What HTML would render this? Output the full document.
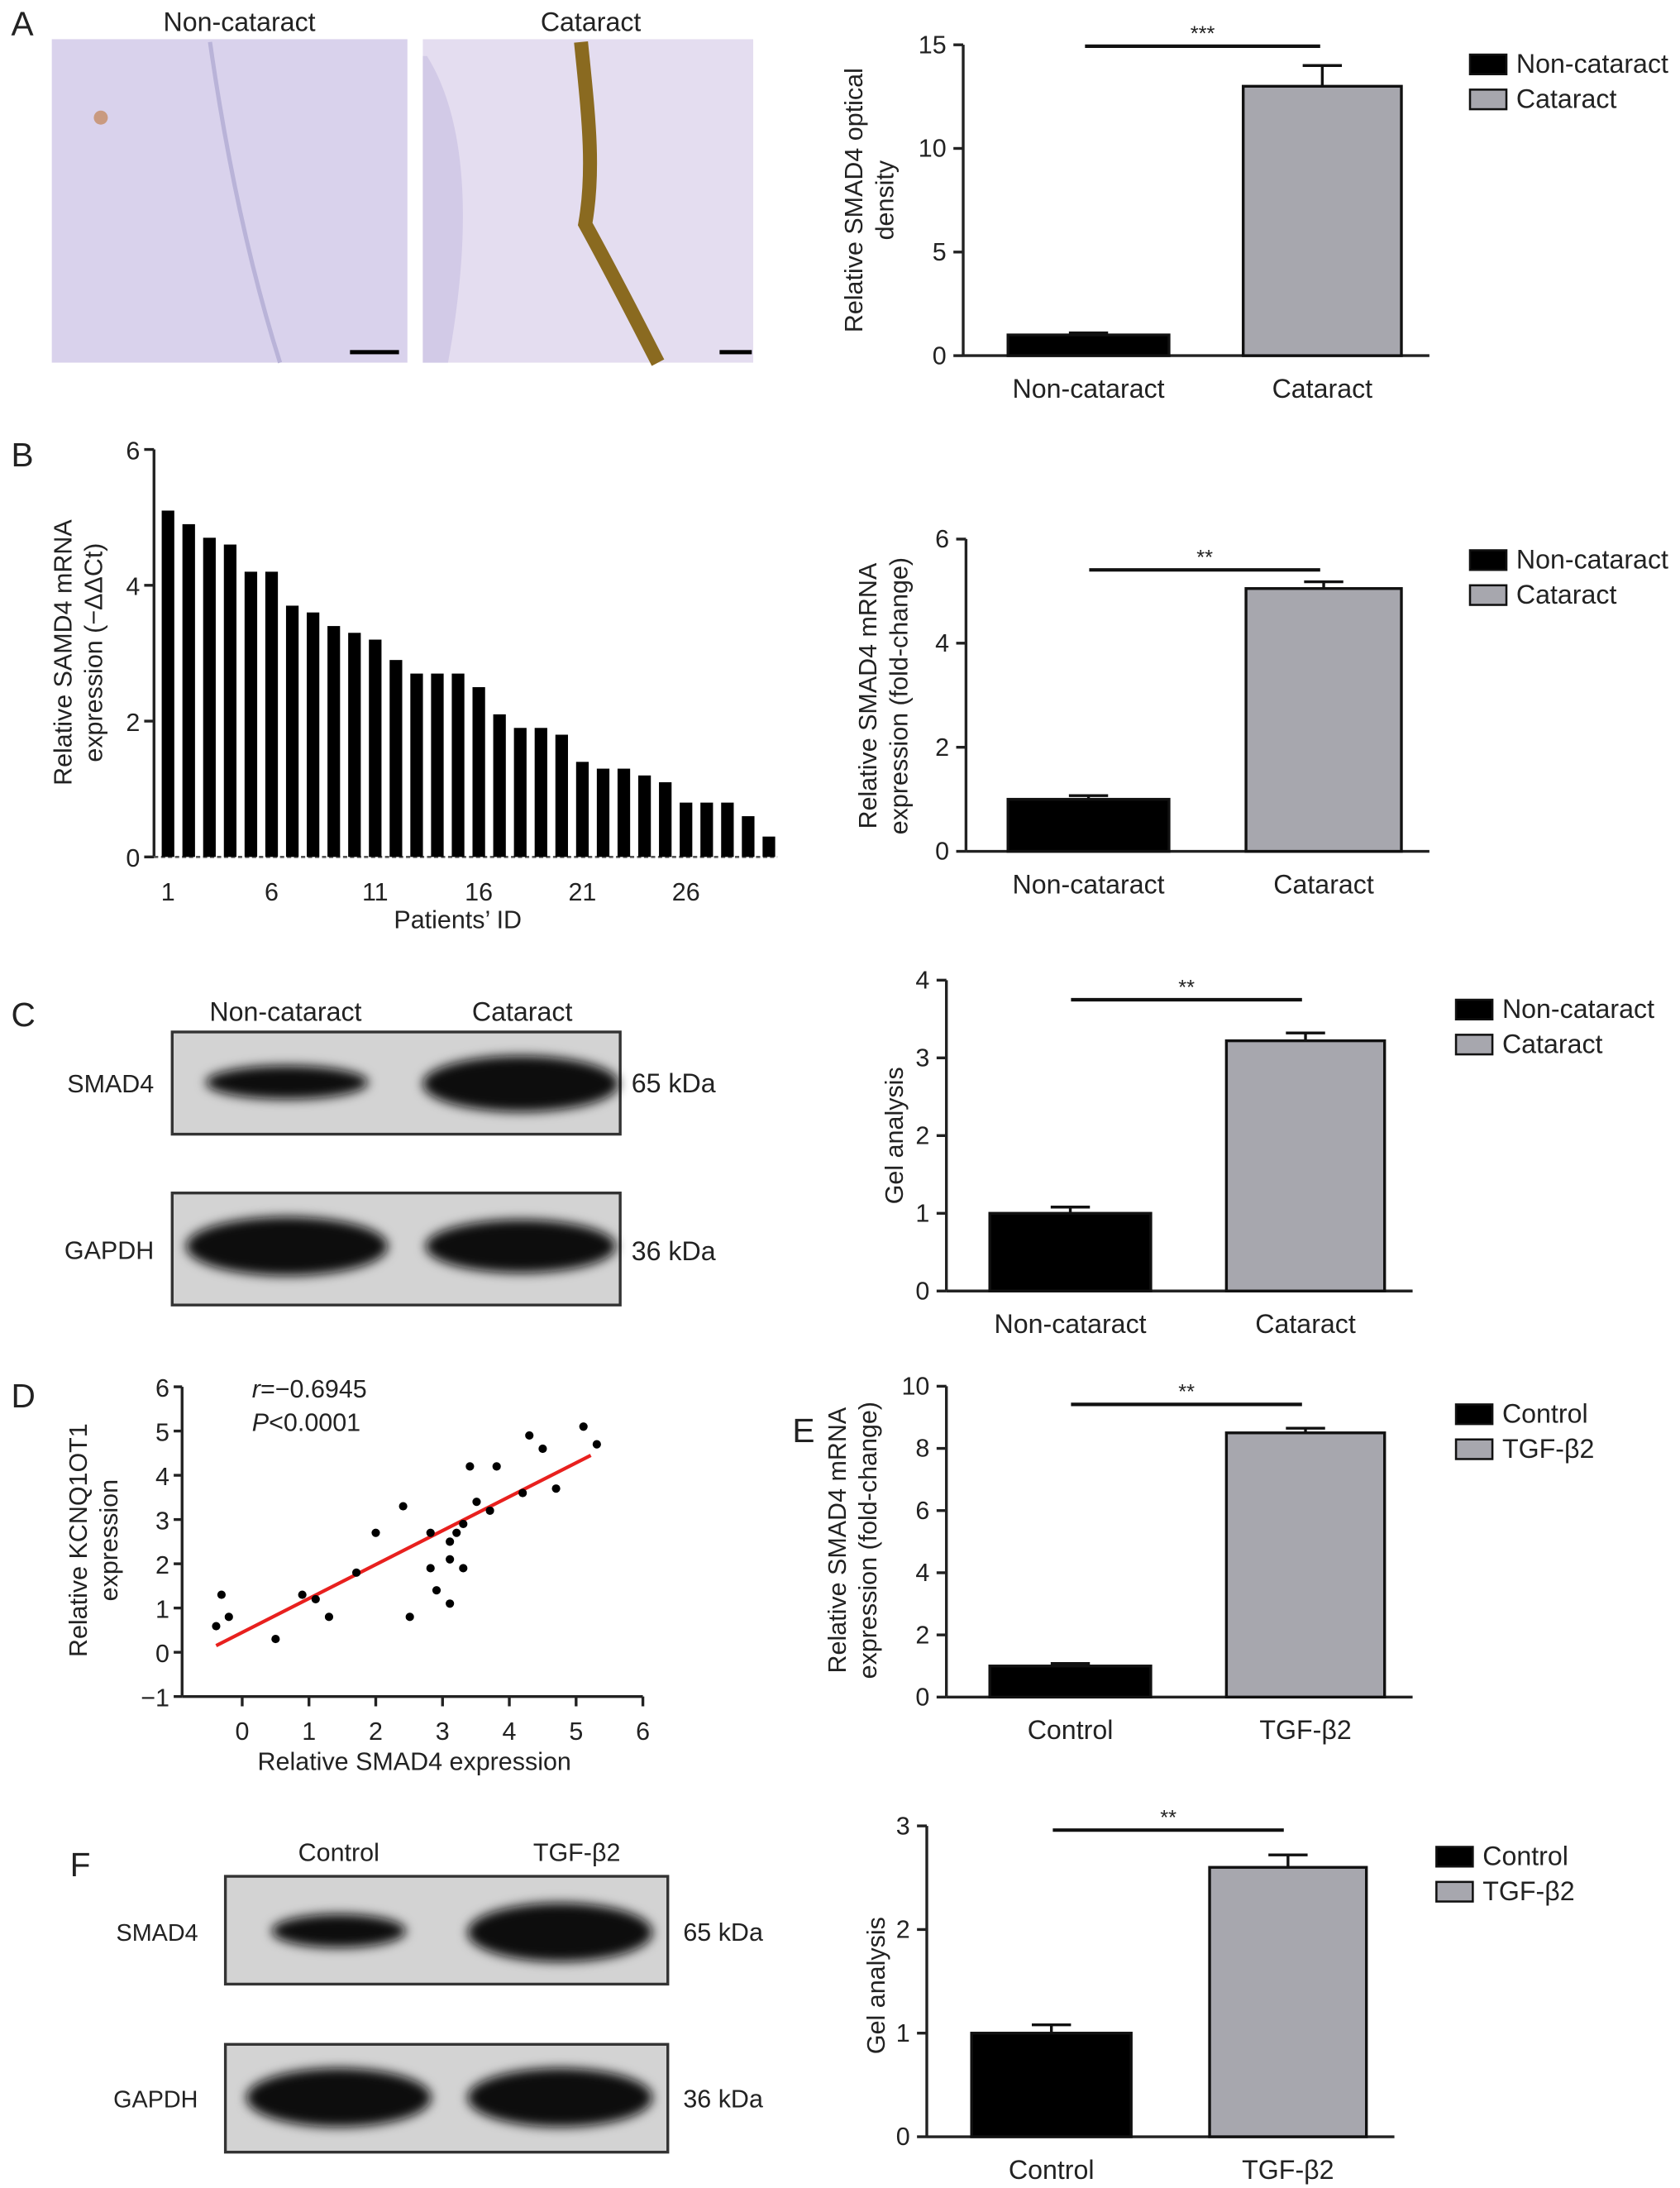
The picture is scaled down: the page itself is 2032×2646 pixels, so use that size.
<!DOCTYPE html>
<html><head><meta charset="utf-8"><style>
html,body{margin:0;padding:0;background:#fff;}
svg{display:block;font-family:"Liberation Sans",Arial,sans-serif;}
</style></head><body>
<svg id="fig" xmlns="http://www.w3.org/2000/svg" width="2032" height="2646" viewBox="0 0 1200 1562.6">
<defs>
<filter id="blur" x="-30%" y="-60%" width="160%" height="220%"><feGaussianBlur stdDeviation="4"/></filter>
<filter id="blur2"><feGaussianBlur stdDeviation="1.5"/></filter>
</defs>
<rect width="1200" height="1563" fill="#fff"/>
<g id="root"></g>
</svg>
<script>
// ---- data ----
const patientIds = [1,2,3,4,5,6,7,8,9,10,11,12,13,14,15,16,17,18,19,20,21,22,23,24,25,26,27,28,29,30];
const patientValues = [5.1,4.9,4.7,4.6,4.2,4.2,3.7,3.6,3.4,3.3,3.2,2.9,2.7,2.7,2.7,2.5,2.1,1.9,1.9,1.8,1.4,1.3,1.3,1.2,1.1,0.8,0.8,0.8,0.6,0.3];
const patientTickLabels = [1,6,11,16,21,26];
const patientYTicks = [0,2,4,6];

const groupsCat = ["Non-cataract","Cataract"];
const groupsTgf = ["Control","TGF-β2"];
const densityValues = [1.0,13.0];
const densityErrors = [0.1,1.0];
const densityTicks = [0,5,10,15];
const mrnaValues = [1.0,5.05];
const mrnaErrors = [0.07,0.13];
const mrnaTicks = [0,2,4,6];
const gelCValues = [1.0,3.22];
const gelCErrors = [0.08,0.1];
const gelCTicks = [0,1,2,3,4];
const tgfMrnaValues = [1.0,8.5];
const tgfMrnaErrors = [0.08,0.15];
const tgfMrnaTicks = [0,2,4,6,8,10];
const gelFValues = [1.0,2.6];
const gelFErrors = [0.08,0.12];
const gelFTicks = [0,1,2,3];

const scatterX = [-0.39,-0.31,-0.2,0.5,0.9,1.1,1.3,1.71,2.0,2.41,2.51,2.82,2.82,2.91,3.11,3.11,3.11,3.21,3.31,3.31,3.41,3.51,3.71,3.81,4.2,4.3,4.5,4.7,5.11,5.31];
const scatterY = [0.59,1.3,0.8,0.3,1.3,1.2,0.8,1.8,2.7,3.3,0.8,2.7,1.9,1.4,2.5,2.1,1.1,2.7,2.9,1.9,4.2,3.4,3.2,4.2,3.6,4.9,4.6,3.7,5.1,4.7];
const fitX = [-0.39,5.22];
const fitY = [0.15,4.45];
const scatterXTicks = [0,1,2,3,4,5,6];
const scatterYTicks = [-1,0,1,2,3,4,5,6];

// ---- helpers ----
const NS="http://www.w3.org/2000/svg";
const root=document.getElementById('root');
function mk(tag,attrs,parent,text){const e=document.createElementNS(NS,tag);for(const k in attrs)e.setAttribute(k,attrs[k]);if(text!==undefined)e.textContent=text;(parent||root).appendChild(e);return e;}
function grp(name,parent){const g=mk('g',{},parent);


return g;}
function txt(g,x,y,s,size,anchor,name,extra){const t=mk('text',Object.assign({x:x,y:y,'font-size':size,'text-anchor':anchor||'middle',fill:'#222'},extra||{}),g,s);


return t;}

function barChart(o){
  const g=grp(o.name);
  const y=v=>o.y0-(v-o.ticks[0])/(o.ticks[o.ticks.length-1]-o.ticks[0])*(o.y0-o.yTop);
  // axis
  const ax=mk('line',{x1:o.ax,y1:y(o.ticks[o.ticks.length-1]),x2:o.ax,y2:o.y0,stroke:'#222','stroke-width':2},g);
  
  
  const xa=mk('line',{x1:o.ax,y1:o.y0,x2:o.bars[1][1]+20,y2:o.y0,stroke:'#222','stroke-width':2},g);
  
  
  o.ticks.forEach(t=>{mk('line',{x1:o.ax-7,y1:y(t),x2:o.ax,y2:y(t),stroke:'#222','stroke-width':2},g);
    txt(g,o.ax-12,y(t)+6,String(t),18,'end','y-tick-label');});
  o.values.forEach((v,i)=>{
    const [x1,x2]=o.bars[i];
    const cx=(x1+x2)/2;
    const e=o.errors[i];
    mk('line',{x1:cx,y1:y(v+e),x2:cx,y2:y(v),stroke:'#111','stroke-width':2},g);
    mk('line',{x1:cx-14,y1:y(v+e),x2:cx+14,y2:y(v+e),stroke:'#111','stroke-width':2},g);
    const r=mk('rect',{x:x1,y:y(v),width:x2-x1,height:o.y0-y(v),fill:i?'#a7a7ae':'#000',stroke:'#111','stroke-width':2},g);
    
    
    txt(g,cx,o.y0+30,o.cats[i],19,'middle','x-tick-label');
  });
  // significance
  mk('line',{x1:o.sig[0],y1:o.sig[2],x2:o.sig[1],y2:o.sig[2],stroke:'#111','stroke-width':2.5},g);
  txt(g,(o.sig[0]+o.sig[1])/2,o.sig[2]-4,o.stars,15,'middle','significance-stars');
  // y title
  const tl=o.ytitle.length;
  o.ytitle.forEach((s,i)=>{txt(g,0,0,s,18,'middle','y-axis-title',{transform:`translate(${o.ytx+i*22-(tl-1)*11},${o.yty}) rotate(-90)`});});
  // legend
  o.cats.forEach((c,i)=>{
    const lg=grp('legend-entry',g);
    mk('rect',{x:o.lx,y:o.ly+i*25-8,width:26,height:14,fill:i?'#a7a7ae':'#000',stroke:'#111','stroke-width':1.5},lg);
    txt(lg,o.lx+33,o.ly+i*25+5,c,19,'start','legend-label');
  });
}

// Panel labels
[["A",8,25],["B",8,333],["C",8,733],["D",8,1005],["E",566,1030],["F",50,1340]].forEach(p=>txt(root,p[1],p[2],p[0],24,'start','panel-label-'+p[0].toLowerCase()));

// ---- Panel A micrographs ----
(function(){
  const g=grp('micrograph-panel-a');
  mk('rect',{x:37,y:28,width:254,height:231,fill:'#d9d2ec'},g);
  mk('path',{d:'M150 30 C160 100 175 180 200 259',stroke:'#b9b3d8','stroke-width':3,fill:'none'},g);
  mk('circle',{cx:72,cy:84,r:5,fill:'#c99a80'},g);
  mk('rect',{x:250,y:250,width:35,height:3,fill:'#000'},g);
  txt(g,171,22,'Non-cataract',19,'middle','image-title');
  mk('rect',{x:302,y:28,width:236,height:231,fill:'#e4ddf0'},g);
  mk('path',{d:'M305 40 C330 80 340 150 320 259 L302 259 L302 40Z',fill:'#cbc2e2',opacity:0.7},g);
  mk('path',{d:'M415 30 C420 80 425 120 418 160 C440 200 455 230 470 259',stroke:'#8a6a20','stroke-width':10,fill:'none'},g);
  mk('rect',{x:514,y:250,width:23,height:3,fill:'#000'},g);
  txt(g,422,22,'Cataract',19,'middle','image-title');
})();

// ---- Panel A chart ----
barChart({name:'chart-a-optical-density',ax:688,y0:254,yTop:32,ticks:densityTicks,values:densityValues,errors:densityErrors,
 bars:[[720,835],[888,1001]],cats:groupsCat,sig:[775,943,33],stars:'***',ytitle:['Relative SMAD4 optical','density'],ytx:627,yty:143,lx:1050,ly:47});

// ---- Panel B patients chart ----
(function(){
  const g=grp('chart-b-patients');
  const y0=612,yTop=321,ax=110;
  const y=v=>y0-v/6*(y0-yTop);
  const x=id=>120+(id-1)*14.8;
  mk('line',{x1:ax,y1:yTop,x2:ax,y2:y0,stroke:'#222','stroke-width':2},g);
  patientYTicks.forEach(t=>{mk('line',{x1:ax-7,y1:y(t),x2:ax,y2:y(t),stroke:'#222','stroke-width':2},g);
   txt(g,ax-10,y(t)+7,String(t),18,'end','y-tick-label');});
  mk('line',{x1:ax,y1:y0,x2:x(30)+6,y2:y0,stroke:'#555','stroke-width':1.5,'stroke-dasharray':'3 2'},g);
  patientValues.forEach((v,i)=>{const r=mk('rect',{x:x(patientIds[i])-4.5,y:y(v),width:9,height:y0-y(v),fill:'#000'},g);
    
    });
  patientTickLabels.forEach(t=>txt(g,x(t),y0+31,String(t),18,'middle','x-tick-label'));
  txt(g,327,y0+51,'Patients’ ID',18,'middle','x-axis-title');
  txt(g,0,0,'Relative SAMD4 mRNA',18,'middle','y-axis-title',{transform:'translate(51,466) rotate(-90)'});
  txt(g,0,0,'expression (−ΔΔCt)',18,'middle','y-axis-title',{transform:'translate(73,466) rotate(-90)'});
})();

// ---- Panel B right chart ----
barChart({name:'chart-b-mrna',ax:690,y0:608,yTop:385,ticks:mrnaTicks,values:mrnaValues,errors:mrnaErrors,
 bars:[[720,835],[890,1001]],cats:groupsCat,sig:[778,943,407],stars:'**',ytitle:['Relative SMAD4 mRNA','expression (fold-change)'],ytx:637,yty:497,lx:1050,ly:401});

// ---- Blots ----
function blot(name,x,y,w,h,bands){
  const g=grp(name);
  mk('rect',{x:x,y:y,width:w,height:h,fill:'#d3d3d3',stroke:'#333','stroke-width':2},g);
  bands.forEach(b=>{const e=mk('ellipse',{cx:b[0],cy:b[1],rx:b[2],ry:b[3],fill:'#0a0a0a',filter:'url(#blur)'},g);
    
    });
  return g;
}
(function(){
  const g=grp('blot-panel-c');
  blot('blot-smad4-c',123,737,320,73,[[205,773,58,12],[372,774,70,20]]);
  blot('blot-gapdh-c',123,852,320,80,[[205,890,72,21],[372,890,68,19]]);
  txt(g,204,729,'Non-cataract',19,'middle','lane-label');
  txt(g,373,729,'Cataract',19,'middle','lane-label');
  txt(g,48,780,'SMAD4',18,'start','protein-label');
  txt(g,46,899,'GAPDH',18,'start','protein-label');
  txt(g,451,780,'65 kDa',19,'start','kda-label');
  txt(g,451,900,'36 kDa',19,'start','kda-label');
})();
barChart({name:'chart-c-gel',ax:676,y0:922,yTop:700,ticks:gelCTicks,values:gelCValues,errors:gelCErrors,
 bars:[[707,822],[876,989]],cats:groupsCat,sig:[765,930,714],stars:'**',ytitle:['Gel analysis'],ytx:645,yty:811,lx:1040,ly:722});

// ---- Panel D scatter ----
(function(){
  const g=grp('chart-d-scatter');
  const xs=v=>173+v*47.7, ys=v=>1180-v*31.6;
  const axX=xs(-0.9);
  mk('line',{x1:axX,y1:ys(6),x2:axX,y2:ys(-1),stroke:'#222','stroke-width':2},g);
  mk('line',{x1:axX,y1:ys(-1),x2:xs(6),y2:ys(-1),stroke:'#222','stroke-width':2},g);
  scatterYTicks.forEach(t=>{mk('line',{x1:axX-6,y1:ys(t),x2:axX,y2:ys(t),stroke:'#222','stroke-width':2},g);
    txt(g,axX-9,ys(t)+7,t<0?'−'+Math.abs(t):String(t),18,'end','y-tick-label');});
  scatterXTicks.forEach(t=>{mk('line',{x1:xs(t),y1:ys(-1),x2:xs(t),y2:ys(-1)+7,stroke:'#222','stroke-width':2},g);
    txt(g,xs(t),ys(-1)+31,String(t),18,'middle','x-tick-label');});
  const fl=mk('line',{x1:xs(fitX[0]),y1:ys(fitY[0]),x2:xs(fitX[1]),y2:ys(fitY[1]),stroke:'#e8201e','stroke-width':2.5},g);
  
  
  scatterX.forEach((v,i)=>{const c=mk('circle',{cx:xs(v),cy:ys(scatterY[i]),r:3,fill:'#000'},g);
    
    });
  const t1=txt(g,180,998,'',18,'start','correlation-r');
  mk('tspan',{'font-style':'italic'},t1,'r');mk('tspan',{},t1,'=−0.6945');
  const t2=txt(g,180,1022,'',18,'start','p-value');
  mk('tspan',{'font-style':'italic'},t2,'P');mk('tspan',{},t2,'<0.0001');
  txt(g,296,1264,'Relative SMAD4 expression',18,'middle','x-axis-title');
  txt(g,0,0,'Relative KCNQ1OT1',18,'middle','y-axis-title',{transform:'translate(62,1100) rotate(-90)'});
  txt(g,0,0,'expression',18,'middle','y-axis-title',{transform:'translate(84,1100) rotate(-90)'});
})();

// ---- Panel E ----
barChart({name:'chart-e-mrna',ax:676,y0:1212,yTop:990,ticks:tgfMrnaTicks,values:tgfMrnaValues,errors:tgfMrnaErrors,
 bars:[[707,822],[876,989]],cats:groupsTgf,sig:[765,930,1003],stars:'**',ytitle:['Relative SMAD4 mRNA','expression (fold-change)'],ytx:615,yty:1100,lx:1040,ly:1011});

// ---- Panel F ----
(function(){
  const g=grp('blot-panel-f');
  blot('blot-smad4-f',161,1340,316,77,[[242,1379,48,12],[400,1380,66,21]]);
  blot('blot-gapdh-f',161,1460,316,77,[[242,1498,66,21],[400,1498,66,21]]);
  txt(g,242,1329,'Control',18,'middle','lane-label');
  txt(g,412,1329,'TGF-β2',18,'middle','lane-label');
  txt(g,83,1386,'SMAD4',17,'start','protein-label');
  txt(g,81,1505,'GAPDH',17,'start','protein-label');
  txt(g,488,1386,'65 kDa',18,'start','kda-label');
  txt(g,488,1505,'36 kDa',18,'start','kda-label');
})();
barChart({name:'chart-f-gel',ax:662,y0:1526,yTop:1304,ticks:gelFTicks,values:gelFValues,errors:gelFErrors,
 bars:[[694,808],[864,976]],cats:groupsTgf,sig:[752,917,1307],stars:'**',ytitle:['Gel analysis'],ytx:632,yty:1418,lx:1026,ly:1327});
</script>
</body></html>
